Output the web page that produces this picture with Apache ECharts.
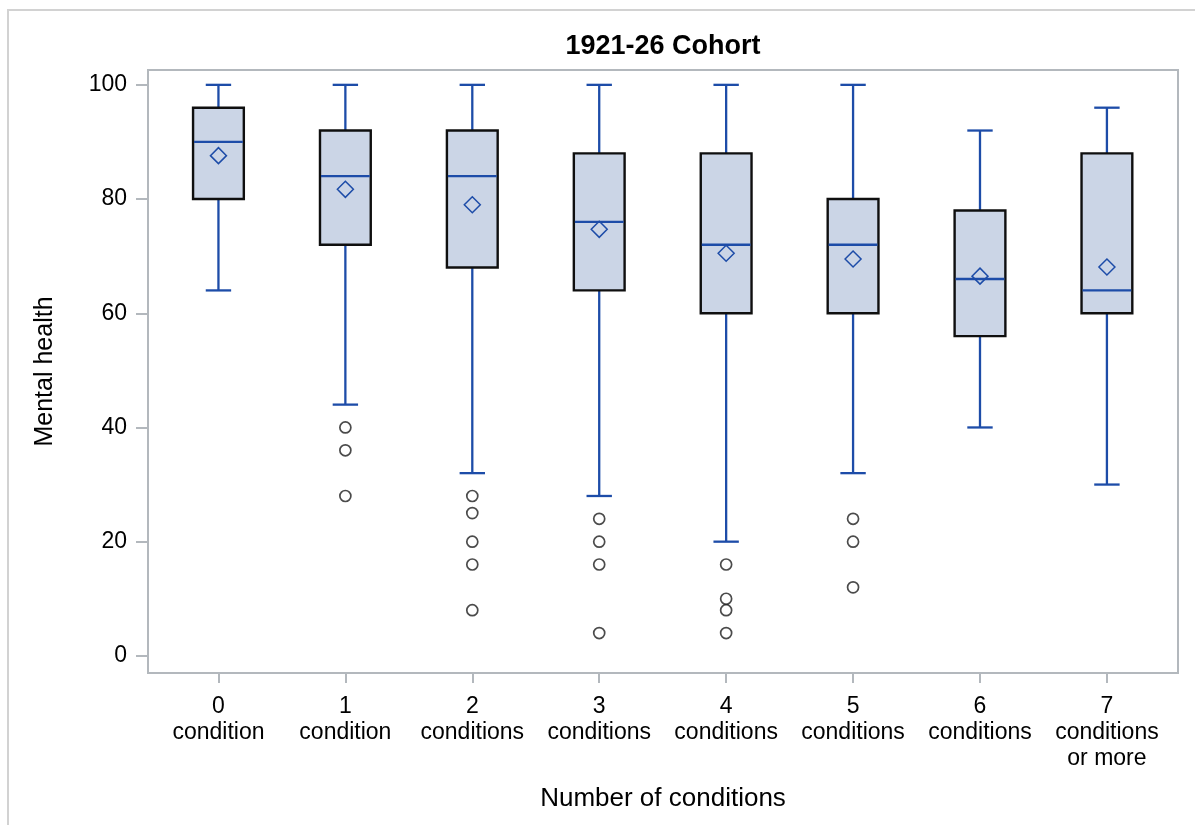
<!DOCTYPE html>
<html>
<head>
<meta charset="utf-8">
<title>1921-26 Cohort</title>
<script src="https://cdn.jsdelivr.net/npm/echarts@6/dist/echarts.min.js"></script>
<style>
  html, body { margin: 0; padding: 0; background: #fff; }
  #chart { width: 1195px; height: 825px; }
</style>
</head>
<body>
<div id="chart"></div>
<script>
// Number of chronic conditions (x categories)
const categories = [
  '0\ncondition', '1\ncondition', '2\nconditions', '3\nconditions',
  '4\nconditions', '5\nconditions', '6\nconditions', '7\nconditions\nor more'
];

// Box statistics of the mental health score for each category
const whiskerLow  = [64, 44, 32, 28, 20, 32, 40, 30];
const quartile1   = [80, 72, 68, 64, 60, 60, 56, 60];
const medians     = [90, 84, 84, 76, 72, 72, 66, 64];
const quartile3   = [96, 92, 92, 88, 88, 80, 78, 88];
const whiskerHigh = [100, 100, 100, 100, 100, 100, 92, 96];
const means       = [87.6, 81.7, 79.0, 74.7, 70.5, 69.5, 66.5, 68.1];

// Outlying observations: [category index, score]
const outliers = [
  [1, 40], [1, 36], [1, 28],
  [2, 28], [2, 25], [2, 20], [2, 16], [2, 8],
  [3, 24], [3, 20], [3, 16], [3, 4],
  [4, 16], [4, 10], [4, 8], [4, 4],
  [5, 24], [5, 20], [5, 12]
];

const yTicks = [0, 20, 40, 60, 80, 100];
const xTicks = categories.map((_, i) => i);

const BLUE = '#1d4ca8';
const FILL = '#cbd5e6';
const FRAME = '#b3b8bd';
const FONT = '"Liberation Sans", Arial, Helvetica, sans-serif';

const boxData = categories.map((_, i) => [
  i, whiskerLow[i], quartile1[i], medians[i], quartile3[i], whiskerHigh[i], means[i]
]);

// Draws one box: whiskers with caps, interquartile box, median line and mean diamond
function renderBox(params, api) {
  const x = api.value(0);
  const band = api.size([1, 0])[0];
  const half = band * 0.2;
  const capHalf = band * 0.1;
  const pt = k => api.coord([x, api.value(k)]);
  const pMin = pt(1), pQ1 = pt(2), pMed = pt(3), pQ3 = pt(4), pMax = pt(5), pMean = pt(6);
  const cx = pMed[0];
  const line = { stroke: BLUE, lineWidth: 2.3 };
  const d = 8;
  return {
    type: 'group',
    children: [
      { type: 'line', shape: { x1: cx, y1: pQ3[1], x2: cx, y2: pMax[1] }, style: line },
      { type: 'line', shape: { x1: cx, y1: pQ1[1], x2: cx, y2: pMin[1] }, style: line },
      { type: 'line', shape: { x1: cx - capHalf, y1: pMax[1], x2: cx + capHalf, y2: pMax[1] }, style: line },
      { type: 'line', shape: { x1: cx - capHalf, y1: pMin[1], x2: cx + capHalf, y2: pMin[1] }, style: line },
      {
        type: 'rect',
        shape: { x: cx - half, y: pQ3[1], width: half * 2, height: pQ1[1] - pQ3[1] },
        style: { fill: FILL, stroke: '#0f0f0f', lineWidth: 2.4 }
      },
      { type: 'line', shape: { x1: cx - half + 1, y1: pMed[1], x2: cx + half - 1, y2: pMed[1] }, style: line },
      {
        type: 'polygon',
        shape: { points: [[cx, pMean[1] - d], [cx + d, pMean[1]], [cx, pMean[1] + d], [cx - d, pMean[1]]] },
        style: { fill: 'none', stroke: BLUE, lineWidth: 1.5 }
      }
    ]
  };
}

const chart = echarts.init(document.getElementById('chart'), null, { renderer: 'canvas' });

chart.setOption({
  backgroundColor: '#ffffff',
  animation: false,
  textStyle: { fontFamily: FONT },
  title: {
    text: '1921-26 Cohort',
    left: 658,
    top: 28,
    textAlign: 'center',
    textStyle: { fontFamily: FONT, fontSize: 27, fontWeight: 'bold', color: '#000' }
  },
  graphic: [{
    type: 'polyline',
    silent: true,
    shape: { points: [[8, 825], [8, 10], [1195, 10]] },
    style: { stroke: '#d2d2d2', lineWidth: 2, fill: null }
  }],
  grid: {
    left: 148, top: 70, right: 17, bottom: 152,
    show: true, borderColor: FRAME, borderWidth: 2, backgroundColor: 'transparent'
  },
  xAxis: {
    type: 'value',
    min: -0.555,
    max: 7.56,
    name: 'Number of conditions',
    nameLocation: 'middle',
    nameGap: 113,
    nameTextStyle: { fontFamily: FONT, fontSize: 26, color: '#000' },
    axisLine: { show: true, onZero: false, lineStyle: { color: FRAME, width: 2 } },
    axisTick: { show: true, length: 10, customValues: xTicks, lineStyle: { color: FRAME, width: 2 } },
    axisLabel: {
      customValues: xTicks,
      formatter: v => categories[Math.round(v)],
      margin: 21,
      fontFamily: FONT,
      fontSize: 23,
      lineHeight: 26,
      color: '#000'
    },
    splitLine: { show: false }
  },
  yAxis: {
    type: 'value',
    min: -3,
    max: 102.6,
    name: 'Mental health',
    nameLocation: 'middle',
    nameGap: 90,
    nameTextStyle: { fontFamily: FONT, fontSize: 25, color: '#000' },
    axisLine: { show: true, onZero: false, lineStyle: { color: FRAME, width: 2 } },
    axisTick: { show: true, length: 12, customValues: yTicks, lineStyle: { color: FRAME, width: 2 } },
    axisLabel: {
      customValues: yTicks,
      margin: 21,
      fontFamily: FONT,
      fontSize: 23,
      color: '#000',
      padding: [3, 0, 0, 0]
    },
    splitLine: { show: false }
  },
  series: [
    {
      name: 'Mental health',
      type: 'custom',
      renderItem: renderBox,
      encode: { x: 0, y: [1, 2, 3, 4, 5, 6] },
      data: boxData,
      z: 2
    },
    {
      name: 'Outliers',
      type: 'scatter',
      data: outliers,
      symbol: 'circle',
      symbolSize: 11,
      itemStyle: { color: '#ffffff', borderColor: '#1e1e1e', borderWidth: 1.7 },
      z: 3
    }
  ]
});
</script>
</body>
</html>
